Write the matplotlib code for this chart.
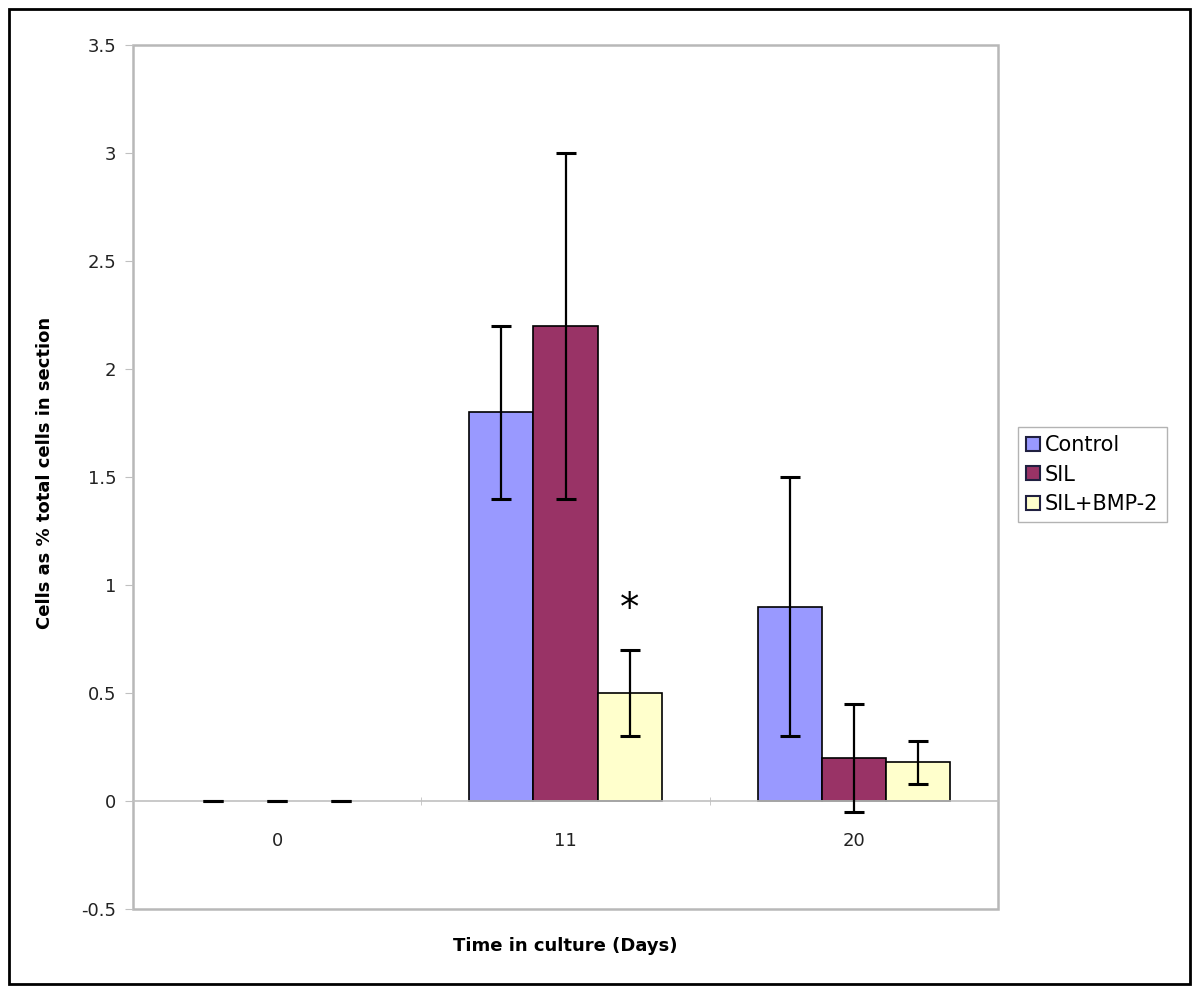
#!/usr/bin/env python3

import numpy as np
import matplotlib.pyplot as plt
from matplotlib.patches import Rectangle, Patch

days = ['0', '11', '20']
series = ['Control', 'SIL', 'SIL+BMP-2']
control = [0.0, 1.8, 0.9]
control_err = [0.0, 0.4, 0.6]
sil = [0.0, 2.2, 0.2]
sil_err = [0.0, 0.8, 0.25]
silbmp = [0.0, 0.5, 0.18]
silbmp_err = [0.0, 0.2, 0.1]
colors = ['#9999FF', '#993366', '#FFFFCC']

plt.rcParams['font.family'] = ['DejaVu Sans']

fig = plt.figure(figsize=(12, 9.94), dpi=100)
ax = fig.add_axes([133 / 1200, 1 - 909 / 994, (998 - 133) / 1200, (909 - 45) / 994])

ind = np.arange(len(days))
width = 1 / 4.5  # excel gap width 150%
vals = [control, sil, silbmp]
errs = [control_err, sil_err, silbmp_err]
for i in range(3):
    x = ind + (i - 1) * width
    lws = [0 if v == 0 else 1.2 for v in vals[i]]  # zero bars: no outline
    ax.bar(x, vals[i], width, color=colors[i], edgecolor='black', linewidth=lws, zorder=2)
    ax.errorbar(x, vals[i], yerr=errs[i], fmt='none', ecolor='black', elinewidth=1.6,
                capsize=7, capthick=2.2, zorder=3)

ax.set_xlim(-0.5, 2.5)
ax.set_ylim(-0.5, 3.5)
ax.set_yticks(np.arange(-0.5, 3.6, 0.5))
ax.set_yticklabels(['-0.5', '0', '0.5', '1', '1.5', '2', '2.5', '3', '3.5'])

# category axis sits on zero, plot area border drawn separately
for s in ['top', 'right', 'left']:
    ax.spines[s].set_visible(False)
ax.spines['bottom'].set_position(('data', 0))
ax.spines['bottom'].set_color('#c0c0c0')
ax.spines['bottom'].set_linewidth(1.2)
ax.set_xticks(ind)
ax.set_xticklabels(days, color='#222222')
ax.set_xticks([0.5, 1.5], minor=True)
ax.tick_params(axis='x', which='major', length=0, pad=22, labelsize=13)
ax.tick_params(axis='x', which='minor', length=6, color='#c0c0c0', direction='inout')
ax.tick_params(axis='y', length=6, color='#c0c0c0', labelsize=13, pad=6, labelcolor='#222222')
ax.add_patch(Rectangle((0, 0), 1, 1, transform=ax.transAxes, fill=False,
                       edgecolor='#b8b8b8', linewidth=1.8, zorder=1, clip_on=False))

ax.text(1 + width, 0.89, '*', ha='center', va='center', fontsize=28)

fig.text(45 / 1200, 1 - 473 / 994, 'Cells as % total cells in section', rotation=90,
         ha='center', va='center', fontsize=13, fontweight='bold')
fig.text(565 / 1200, 1 - 946 / 994, 'Time in culture (Days)', ha='center', va='center',
         fontsize=13, fontweight='bold')

handles = [Patch(facecolor=c, edgecolor='#202040', linewidth=1.5) for c in colors]
leg = fig.legend(handles, series, loc='upper left', bbox_to_anchor=(1018 / 1200, 1 - 427 / 994),
                 fontsize=15, frameon=True, fancybox=False, handlelength=0.65, handleheight=0.65,
                 handletextpad=0.25, borderpad=0.4, labelspacing=0.45, borderaxespad=0)
leg.get_frame().set_edgecolor('#a0a0a0')
leg.get_frame().set_linewidth(1)

fig.add_artist(Rectangle((9 / 1200, 1 - 984 / 994), 1181 / 1200, 975 / 994,
                         transform=fig.transFigure, fill=False, edgecolor='black', linewidth=2))

plt.savefig('out.png')
